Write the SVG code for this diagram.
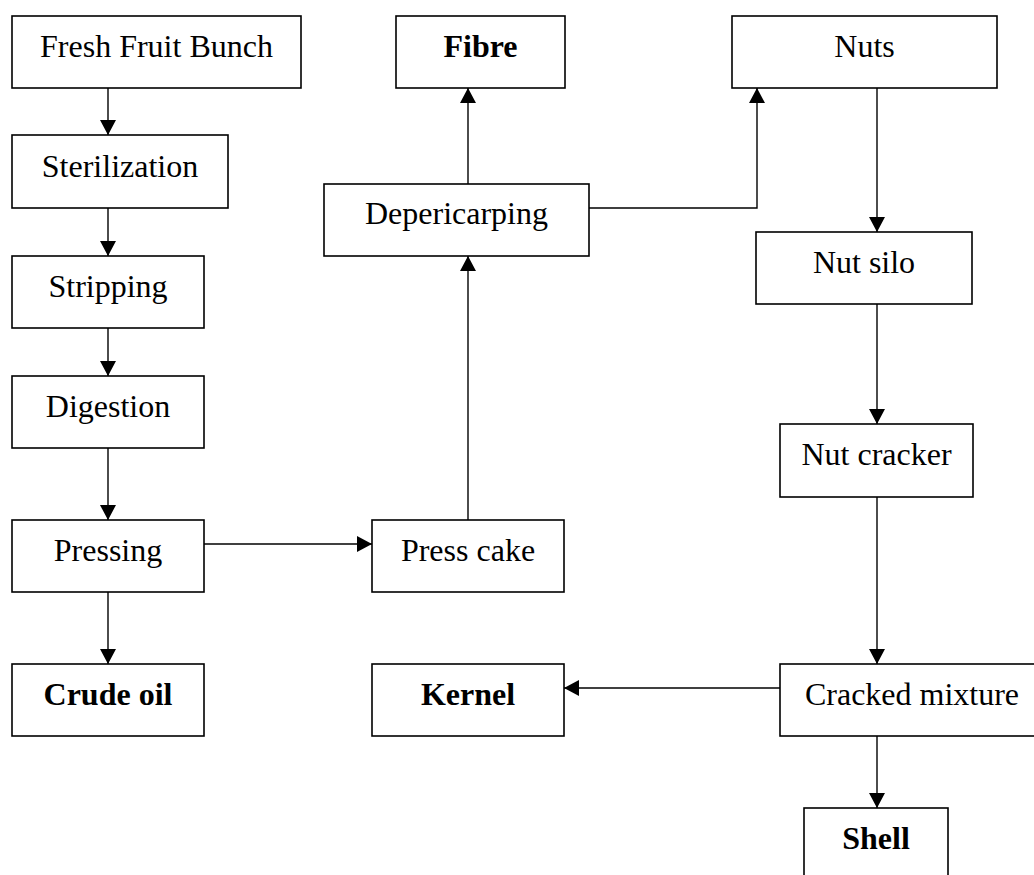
<svg xmlns="http://www.w3.org/2000/svg" width="1034" height="875" viewBox="0 0 1034 875">
<style>
.box{fill:#fff;stroke:#000;stroke-width:1.6}
.t{font-family:"Liberation Serif","Times New Roman",serif;font-size:32px;fill:#000;text-anchor:middle}
.b{font-weight:bold}
.c{fill:none;stroke:#000;stroke-width:1.4}
</style>
<defs>
<marker id="ah" viewBox="0 0 15 16" refX="15" refY="8" markerWidth="15" markerHeight="16" markerUnits="userSpaceOnUse" orient="auto">
<path d="M0,0 L15,8 L0,16 z" fill="#000"/>
</marker>
</defs>
<rect width="1034" height="875" fill="#fff"/>
<g id="connectors">
<path class="c" d="M108,88 V135" marker-end="url(#ah)"/>
<path class="c" d="M108,208 V256" marker-end="url(#ah)"/>
<path class="c" d="M108,328 V376" marker-end="url(#ah)"/>
<path class="c" d="M108,448 V520" marker-end="url(#ah)"/>
<path class="c" d="M108,592 V664" marker-end="url(#ah)"/>
<path class="c" d="M204,544 H372" marker-end="url(#ah)"/>
<path class="c" d="M468,520 V256" marker-end="url(#ah)"/>
<path class="c" d="M468,184 V88" marker-end="url(#ah)"/>
<path class="c" d="M589,208 H757 V88" marker-end="url(#ah)"/>
<path class="c" d="M877,88 V232" marker-end="url(#ah)"/>
<path class="c" d="M877,304 V424" marker-end="url(#ah)"/>
<path class="c" d="M877,497 V664" marker-end="url(#ah)"/>
<path class="c" d="M780,688 H564" marker-end="url(#ah)"/>
<path class="c" d="M877,736 V808" marker-end="url(#ah)"/>
</g>
<g id="ffb"><rect class="box" x="12" y="16" width="289" height="72"/><text class="t" x="156.5" y="57">Fresh Fruit Bunch</text></g>
<g id="sterilization"><rect class="box" x="12" y="135" width="216" height="73"/><text class="t" x="120" y="177">Sterilization</text></g>
<g id="stripping"><rect class="box" x="12" y="256" width="192" height="72"/><text class="t" x="108" y="297">Stripping</text></g>
<g id="digestion"><rect class="box" x="12" y="376" width="192" height="72"/><text class="t" x="108" y="417">Digestion</text></g>
<g id="pressing"><rect class="box" x="12" y="520" width="192" height="72"/><text class="t" x="108" y="561">Pressing</text></g>
<g id="crudeoil"><rect class="box" x="12" y="664" width="192" height="72"/><text class="t b" x="108" y="705">Crude oil</text></g>
<g id="fibre"><rect class="box" x="396" y="16" width="169" height="72"/><text class="t b" x="480.5" y="57">Fibre</text></g>
<g id="depericarping"><rect class="box" x="324" y="184" width="265" height="72"/><text class="t" x="456.5" y="224">Depericarping</text></g>
<g id="presscake"><rect class="box" x="372" y="520" width="192" height="72"/><text class="t" x="468" y="561">Press cake</text></g>
<g id="kernel"><rect class="box" x="372" y="664" width="192" height="72"/><text class="t b" x="468" y="705">Kernel</text></g>
<g id="nuts"><rect class="box" x="732" y="16" width="265" height="72"/><text class="t" x="864.5" y="57">Nuts</text></g>
<g id="nutsilo"><rect class="box" x="756" y="232" width="216" height="72"/><text class="t" x="864" y="273">Nut silo</text></g>
<g id="nutcracker"><rect class="box" x="780" y="424" width="193" height="73"/><text class="t" x="876.5" y="465">Nut cracker</text></g>
<g id="crackedmixture"><rect class="box" x="780" y="664" width="264" height="72"/><text class="t" x="912" y="705">Cracked mixture</text></g>
<g id="shell"><rect class="box" x="804" y="808" width="144" height="80"/><text class="t b" x="876" y="849">Shell</text></g>
</svg>
